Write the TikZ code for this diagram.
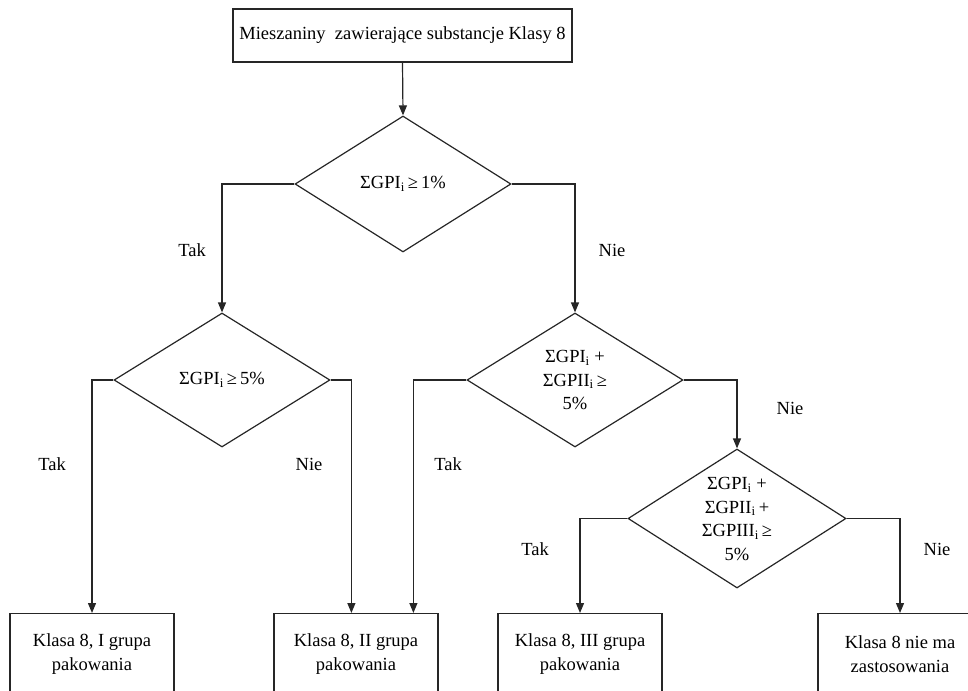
\documentclass[tikz,border=0pt]{standalone}
\usepackage{fontspec}
\setmainfont{Liberation Serif}
\usetikzlibrary{shapes.geometric,arrows.meta,calc}
\begin{document}
\begin{tikzpicture}[x=1pt,y=-1pt,
  every node/.style={font=\fontsize{18.5}{23.5}\selectfont, text=black},
  line/.style={draw=black!85, line width=1.2pt},
  arr/.style={line, -{Triangle[width=8pt,length=10pt]}},
  boxnode/.style={line, rectangle, minimum width=164pt, minimum height=81pt, inner sep=0pt, anchor=north, align=center},
  dia/.style={line, diamond, inner sep=0pt, minimum width=216pt, minimum height=134pt},
  cond/.style={align=center, inner sep=0pt},
  lbl/.style={inner sep=0pt}]
\useasboundingbox (0,0) rectangle (968,690);
\clip (0,0) rectangle (968,690);
% start box
\node[line, rectangle, minimum width=339pt, minimum height=53pt, inner sep=0pt] (top) at (402.5,35.5) {Mieszaniny~ zawierające substancje Klasy 8};
% diamonds
\node[dia, minimum height=136pt] (d1) at (403,184) {};
\node[dia] (d2) at (222,380) {};
\node[dia] (d3) at (575,380) {};
\node[dia, minimum width=218pt, minimum height=139pt] (d4) at (737,518.5) {};
% condition texts
\node[cond] (t1) at (403,184) {ΣGPI\textsubscript{i}\,≥\,1\%};
\node[cond] (t2) at (222,380) {ΣGPI\textsubscript{i}\,≥\,5\%};
\node[cond] (t3) at (575,380) {ΣGPI\textsubscript{i} +\\ΣGPII\textsubscript{i}\,≥\\5\%};
\node[cond] (t4) at (737,519) {ΣGPI\textsubscript{i} +\\ΣGPII\textsubscript{i}\,+\\ΣGPIII\textsubscript{i}\,≥\\5\%};
% result boxes
\node[boxnode] (b1) at (92,613) {Klasa 8, I grupa\\pakowania};
\node[boxnode] (b2) at (356,613) {Klasa 8, II grupa\\pakowania};
\node[boxnode] (b3) at (580,613) {Klasa 8, III grupa\\pakowania};
\node[boxnode] (b4) at (900,613) {Klasa 8 nie ma\\zastosowania};
% connectors
\draw[arr] (top.south) -- (d1.north);
\draw[arr] (d1.west) -| (d2.north);
\draw[arr] (d1.east) -| (d3.north);
\draw[arr] (d2.west) -| (b1.north);
\draw[arr] (d2.east) -| ($(b2.north west)+(78,0)$);
\draw[arr] (d3.west) -| ($(b2.north west)+(140,0)$);
\draw[arr] (d3.east) -| (d4.north);
\draw[arr] (d4.west) -| (b3.north);
\draw[arr] (d4.east) -| (b4.north);
% labels
\node[lbl] (l1) at (192,250) {Tak};
\node[lbl] (l2) at (612,250) {Nie};
\node[lbl] (l3) at (52,464) {Tak};
\node[lbl] (l4) at (309,464) {Nie};
\node[lbl] (l5) at (448,464) {Tak};
\node[lbl] (l6) at (790,408) {Nie};
\node[lbl] (l7) at (535,549) {Tak};
\node[lbl] (l8) at (937,549) {Nie};
\end{tikzpicture}
\end{document}
